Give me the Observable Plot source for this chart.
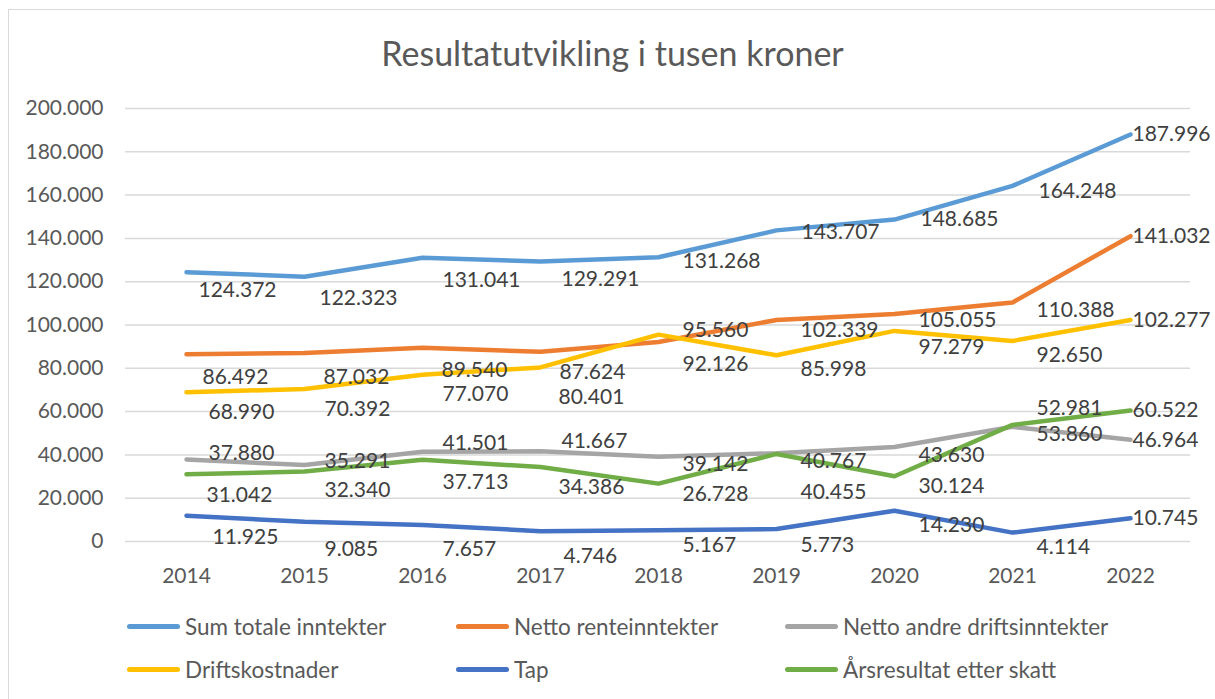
<!DOCTYPE html>
<html>
<head>
<meta charset="utf-8">
<script src="https://cdn.jsdelivr.net/npm/d3@7"></script>
<script src="https://cdn.jsdelivr.net/npm/@observablehq/plot@0.6"></script>
<style>
  html, body { margin: 0; padding: 0; background: #fff; }
  #wrap { position: relative; width: 1215px; height: 699px; overflow: hidden; font-family: Lato, "Noto Sans", sans-serif; }
  #border { position: absolute; left: 8px; top: 9px; width: 1220px; height: 700px; border-left: 1.5px solid #D9D9D9; border-top: 1.5px solid #D9D9D9; box-sizing: border-box; }
  #title { position: absolute; left: 0; width: 1225px; top: 31px; text-align: center; font-size: 34px; color: #595959; line-height: 44px; }
  #chart { position: absolute; left: 0; top: 90px; }
  .leg { position: absolute; display: flex; align-items: center; font-size: 22.5px; color: #595959; white-space: nowrap; }
  .sw { width: 53px; height: 5px; border-radius: 3px; margin-right: 5px; }
</style>
</head>
<body>
<div id="wrap">
  <div id="border"></div>
  <div id="title">Resultatutvikling i tusen kroner</div>
  <div id="chart"></div>
  <div id="legend"></div>
</div>
<script>
const years = ["2014","2015","2016","2017","2018","2019","2020","2021","2022"];
const seriesNames = ["Sum totale inntekter","Netto renteinntekter","Netto andre driftsinntekter","Driftskostnader","Tap","Årsresultat etter skatt"];
const seriesColors = ["#5B9BD5","#ED7D31","#A5A5A5","#FFC000","#4472C4","#70AD47"];
const sumTotaleInntekter = [124372,122323,131041,129291,131268,143707,148685,164248,187996];
const nettoRenteinntekter = [86492,87032,89540,87624,92126,102339,105055,110388,141032];
const nettoAndreDriftsinntekter = [37880,35291,41501,41667,39142,40767,43630,52981,46964];
const driftskostnader = [68990,70392,77070,80401,95560,85998,97279,92650,102277];
const tap = [11925,9085,7657,4746,5167,5773,14230,4114,10745];
const arsresultat = [31042,32340,37713,34386,26728,40455,30124,53860,60522];
const yTicks = [0,20000,40000,60000,80000,100000,120000,140000,160000,180000,200000];

const allValues = [sumTotaleInntekter, nettoRenteinntekter, nettoAndreDriftsinntekter, driftskostnader, tap, arsresultat];
const data = [];
seriesNames.forEach((s, i) => years.forEach((yr, j) => data.push({series: s, year: yr, idx: j, value: allValues[i][j]})));

const locale = d3.formatLocale({decimal: ",", thousands: ".", grouping: [3], currency: ["", " kr"]});
const fmt = locale.format(",");

// Data-label placement style (pixel offsets from each point, like Excel's per-label positions)
const labelStyle = {
  "Sum totale inntekter":        {dy: [18, 22, 22, 18, 4, 2, 0, 5, 0],      dx: [12, 15, 20, 21, 24, 25, 26, 26, 2]},
  "Netto renteinntekter":        {dy: [23, 24, 23, 20, 22, 10, 6, 8, 0],    dx: [16, 19, 19, 19, 24, 24, 24, 24, 2]},
  "Netto andre driftsinntekter": {dy: [-6, -4, -8, -10, 8, 8, 8, -19, 0],   dx: [22, 20, 20, 21, 24, 24, 24, 24, 2]},
  "Driftskostnader":             {dy: [20, 20, 20, 30, -4, 14, 16, 14, 0],  dx: [22, 20, 20, 18, 24, 24, 24, 24, 2]},
  "Tap":                         {dy: [22, 27, 24, 25, 15, 16, 15, 15, 0],  dx: [26, 20, 20, 23, 24, 24, 24, 24, 2]},
  "Årsresultat etter skatt":     {dy: [21, 19, 22, 20, 11, 38, 10, 9, 0],   dx: [20, 20, 20, 18, 24, 24, 24, 24, 2]}
};

const textMarks = data.map(d => Plot.text([d], {
  x: "year", y: "value", text: v => fmt(v.value), textAnchor: "start",
  fill: "#404040", fontSize: 21, fontFamily: "Lato",
  dx: labelStyle[d.series].dx[d.idx], dy: labelStyle[d.series].dy[d.idx]
}));

const plot = Plot.plot({
  width: 1215,
  height: 510,
  marginLeft: 125,
  marginRight: 25,
  marginTop: 18,
  marginBottom: 59,
  style: {fontFamily: "Lato", fontSize: "21px", color: "#595959", background: "transparent", overflow: "visible"},
  x: {type: "point", domain: years, padding: 0.5, label: null},
  y: {domain: [0, 200000], label: null},
  color: {domain: seriesNames, range: seriesColors},
  marks: [
    Plot.ruleY(yTicks, {stroke: "#D9D9D9", strokeWidth: 1.5}),
    Plot.axisY({ticks: yTicks, tickFormat: d => fmt(d), tickSize: 0, tickPadding: 22, fontSize: 21, fill: "#595959", label: null}),
    Plot.axisX({tickSize: 0, tickPadding: 27, fontSize: 21, fill: "#595959", label: null}),
    Plot.line(data, {x: "year", y: "value", z: "series", stroke: "series", strokeWidth: 4.5, strokeLinecap: "round", strokeLinejoin: "round"}),
    ...textMarks
  ]
});
document.getElementById("chart").appendChild(plot);

const legendPos = [[127, 626], [456, 626], [785, 626], [127, 669], [456, 669], [785, 669]];
const legend = document.getElementById("legend");
seriesNames.forEach((s, i) => {
  const el = document.createElement("div");
  el.className = "leg";
  el.style.left = legendPos[i][0] + "px";
  el.style.top = (legendPos[i][1] - 14) + "px";
  el.style.height = "28px";
  el.innerHTML = `<div class="sw" style="background:${seriesColors[i]}"></div><span>${s}</span>`;
  legend.appendChild(el);
});
</script>
</body>
</html>
